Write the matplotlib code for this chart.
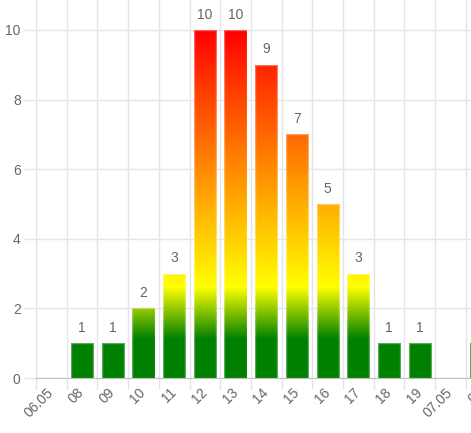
import matplotlib
matplotlib.use("Agg")
import matplotlib.pyplot as plt
import numpy as np
from matplotlib.colors import LinearSegmentedColormap

plt.rcParams['font.family'] = ['Liberation Sans', 'DejaVu Sans']

# data
labels = ['06.05', '08', '09', '10', '11', '12', '13', '14', '15', '16',
          '17', '18', '19', '07.05', '08']
counts = [0, 1, 1, 2, 3, 10, 10, 9, 7, 5, 3, 1, 1, 0, 1]

# gradient stops (value, colour) - green at bottom, yellow, red on top
grad_vals = [0, 1.1, 2.6, 10]
grad_cols = ['#008000', '#008000', '#ffff00', '#ff0000']

ymax = 10.86
text_col = '#666666'
grid_col = '#e5e5e5'

fig = plt.figure(figsize=(4.71, 4.33), dpi=100)
ax = fig.add_axes([36 / 471, 55 / 433, 1 - 36 / 471, 1 - 55 / 433])

x = np.arange(len(labels))
bars = ax.bar(x, counts, width=0.72, color='none', edgecolor='none', zorder=3)

cmap = LinearSegmentedColormap.from_list(
    'grad', [(v / grad_vals[-1], c) for v, c in zip(grad_vals, grad_cols)])
grad = np.linspace(0, 1, 512).reshape(-1, 1)
for b, v in zip(bars, counts):
    if v == 0:
        continue
    x0 = b.get_x()
    im = ax.imshow(grad, cmap=cmap, aspect='auto', origin='lower',
                   extent=(x0, x0 + b.get_width(), 0, grad_vals[-1]),
                   zorder=3, interpolation='bilinear')
    im.set_clip_path(b)
    ax.add_patch(plt.Rectangle((x0, 0), b.get_width(), v, fill=False,
                               edgecolor=(1, 1, 1, 0.35), lw=1, zorder=4))
    ax.annotate(str(v), (b.get_x() + b.get_width() / 2, v),
                xytext=(0, 6), textcoords='offset points',
                ha='center', va='bottom', fontsize=10, color=text_col)

ax.set_xticks(x)
ax.set_xticklabels(labels, rotation=45, ha='right', va='center',
                   rotation_mode='anchor', fontsize=10, color=text_col)
ax.set_xticks(np.arange(len(labels) + 1) - 0.5, minor=True)
ax.tick_params(axis='x', which='major', length=0, pad=9)
ax.tick_params(axis='x', which='minor', length=8, color=grid_col, width=1)

ax.set_yticks(range(0, 11, 2))
ax.tick_params(axis='y', length=9, color=grid_col, width=1, pad=2,
               labelsize=10, labelcolor=text_col)

# the chart is cut at the right edge, so the last category shows only a sliver
ax.set_xlim(-0.5, -0.5 + 435 / 30.7)
ax.set_ylim(0, ymax)

# last tick label lies outside the view, draw it by hand (cut by the edge)
ax.annotate(labels[-1], (x[-1], 0), xycoords=('data', 'axes fraction'),
            xytext=(0, -9), textcoords='offset points', rotation=45,
            rotation_mode='anchor', ha='right', va='center', fontsize=10,
            color=text_col, annotation_clip=False)

ax.grid(True, which='minor', axis='x', color=grid_col, lw=1, zorder=0)
ax.grid(True, which='major', axis='y', color=grid_col, lw=1, zorder=0)
ax.set_axisbelow(True)

for s in ['top', 'right']:
    ax.spines[s].set_visible(False)
ax.spines['left'].set_color(grid_col)
ax.spines['bottom'].set_color('#bfbfbf')

fig.savefig('out.png', dpi=100)
